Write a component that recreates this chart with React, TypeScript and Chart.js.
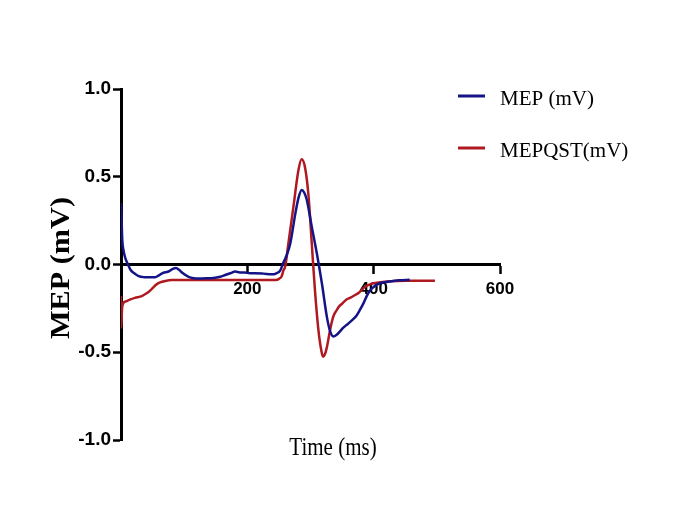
import React, { useEffect, useRef } from "react";
import { Chart, registerables } from "chart.js";

Chart.register(...registerables);

const seriesNames = ["MEP (mV)", "MEPQST(mV)"];
const xTitle = "Time (ms)";
const yTitle = "MEP (mV)";
const xTickValues = [200, 400, 600];
const yTickValues = [-1.0, -0.5, 0.0, 0.5, 1.0];

const mepTime = [0, 1, 2, 4, 7, 11, 15, 21, 28, 36, 44, 54, 60, 65, 75, 82, 87, 92, 97, 107, 115, 123, 135, 149, 157, 165, 173, 181, 188, 196, 204, 212, 225, 239, 246, 252, 257, 262, 268, 276, 281, 286, 290, 294, 302, 310, 318, 326, 331, 336, 341.5, 347, 352, 357, 362, 368, 373, 378, 384, 389, 394, 400, 405, 412, 420, 440, 457];
const mepValues = [0.35, 0.25, 0.14, 0.08, 0.035, 0.0, -0.03, -0.05, -0.066, -0.072, -0.073, -0.073, -0.062, -0.05, -0.04, -0.025, -0.02, -0.03, -0.047, -0.07, -0.078, -0.08, -0.079, -0.075, -0.07, -0.06, -0.05, -0.04, -0.045, -0.045, -0.05, -0.05, -0.052, -0.056, -0.05, -0.035, 0.01, 0.05, 0.12, 0.29, 0.38, 0.425, 0.41, 0.37, 0.215, 0.064, -0.107, -0.3, -0.38, -0.41, -0.4, -0.38, -0.36, -0.345, -0.33, -0.31, -0.29, -0.26, -0.22, -0.18, -0.15, -0.128, -0.115, -0.105, -0.1, -0.09, -0.087];

const qstTime = [0, 0.5, 1.5, 3, 8, 14, 22, 33, 40, 44, 50, 55, 60, 65, 72, 81, 100, 150, 200, 245, 250, 254.6, 257, 260, 265, 273, 281, 286, 291.5, 297, 302, 307, 312.5, 318, 320, 323, 326, 331, 335, 338, 341.5, 345, 349.5, 357, 362.6, 370.5, 377, 381, 386, 391.5, 398, 405, 421, 452, 497];
const qstValues = [-0.18, -0.36, -0.26, -0.225, -0.21, -0.2, -0.19, -0.18, -0.165, -0.155, -0.135, -0.117, -0.105, -0.098, -0.092, -0.089, -0.088, -0.088, -0.088, -0.088, -0.082, -0.065, -0.035, -0.01, 0.12, 0.33, 0.54, 0.6, 0.55, 0.386, 0.12, -0.145, -0.373, -0.506, -0.525, -0.51, -0.47, -0.373, -0.31, -0.28, -0.26, -0.24, -0.225, -0.2, -0.19, -0.174, -0.16, -0.145, -0.128, -0.117, -0.108, -0.104, -0.097, -0.092, -0.092];

const BLUE = "rgb(20,20,135)";
const RED = "rgb(175,25,32)";

const textPlugin = {
  id: "textPlugin",
  afterDraw(chart: any) {
    const ctx = chart.ctx as CanvasRenderingContext2D;
    ctx.save();
    ctx.fillStyle = "#000";
    const colors = [BLUE, RED];
    const ys = [96, 148];
    seriesNames.forEach((name, i) => {
      ctx.strokeStyle = colors[i];
      ctx.lineWidth = 3;
      ctx.beginPath();
      ctx.moveTo(458, ys[i]);
      ctx.lineTo(485, ys[i]);
      ctx.stroke();
      ctx.font = "21px 'Liberation Serif', 'Times New Roman', serif";
      ctx.textAlign = "left";
      ctx.textBaseline = "middle";
      ctx.fillText(name, 500, ys[i] + 3);
    });
    ctx.save();
    ctx.translate(333, 448);
    ctx.scale(1, 1.2);
    ctx.font = "21px 'Liberation Serif', 'Times New Roman', serif";
    ctx.textAlign = "center";
    ctx.textBaseline = "middle";
    ctx.fillText(xTitle, 0, 0);
    ctx.restore();
    ctx.save();
    ctx.translate(62, 268);
    ctx.rotate(-Math.PI / 2);
    ctx.scale(1.12, 1);
    ctx.font = "bold 27px 'Liberation Serif', 'Times New Roman', serif";
    ctx.textAlign = "center";
    ctx.textBaseline = "middle";
    ctx.fillText(yTitle, 0, 0);
    ctx.restore();
    ctx.restore();
  },
};

export default function App() {
  const ref = useRef<HTMLCanvasElement>(null);
  useEffect(() => {
    if (!ref.current) return;
    const chart = new Chart(ref.current, {
      type: "line",
      data: {
        datasets: [
          {
            label: seriesNames[0],
            data: mepTime.map((t, i) => ({ x: t, y: mepValues[i] })),
            borderColor: BLUE,
            backgroundColor: BLUE,
            borderWidth: 2.5,
            pointRadius: 0,
            cubicInterpolationMode: "monotone",
          },
          {
            label: seriesNames[1],
            data: qstTime.map((t, i) => ({ x: t, y: qstValues[i] })),
            borderColor: RED,
            backgroundColor: RED,
            borderWidth: 2.5,
            pointRadius: 0,
            cubicInterpolationMode: "monotone",
          },
        ],
      },
      options: {
        animation: false,
        responsive: true,
        maintainAspectRatio: false,
        layout: { padding: { top: 89, right: 185, bottom: 73, left: 0 } },
        plugins: { legend: { display: false }, tooltip: { enabled: false } },
        scales: {
          x: {
            type: "linear",
            min: 0,
            max: 600,
            position: { y: 0 } as any,
            afterBuildTicks: (scale: any) => {
              scale.ticks = [0, ...xTickValues].map((v) => ({ value: v }));
            },
            ticks: {
              color: "#000",
              font: { family: "'Liberation Sans', Arial, sans-serif", size: 17, weight: "bold" },
              padding: 7,
              maxRotation: 0,
              callback: (v: any) => (v === 0 ? "" : String(v)),
            },
            grid: { drawOnChartArea: false, drawTicks: true, tickLength: 8, color: "#000", tickWidth: 2.5 },
            border: { display: true, color: "#000", width: 3 },
          },
          y: {
            min: -1,
            max: 1,
            afterBuildTicks: (scale: any) => {
              scale.ticks = yTickValues.map((v) => ({ value: v }));
            },
            afterFit: (scale: any) => {
              scale.width = 121;
            },
            ticks: {
              color: "#000",
              font: { family: "'Liberation Sans', Arial, sans-serif", size: 19, weight: "bold" },
              padding: 2,
              callback: (v: any) => Number(v).toFixed(1),
            },
            grid: { drawOnChartArea: false, drawTicks: true, tickLength: 8, color: "#000", tickWidth: 2.5 },
            border: { display: true, color: "#000", width: 3 },
          },
        },
      },
      plugins: [textPlugin],
    });
    return () => chart.destroy();
  }, []);
  return (
    <div style={{ position: "fixed", left: 0, top: 0, width: 685, height: 513, background: "#fff" }}>
      <canvas ref={ref} />
    </div>
  );
}
